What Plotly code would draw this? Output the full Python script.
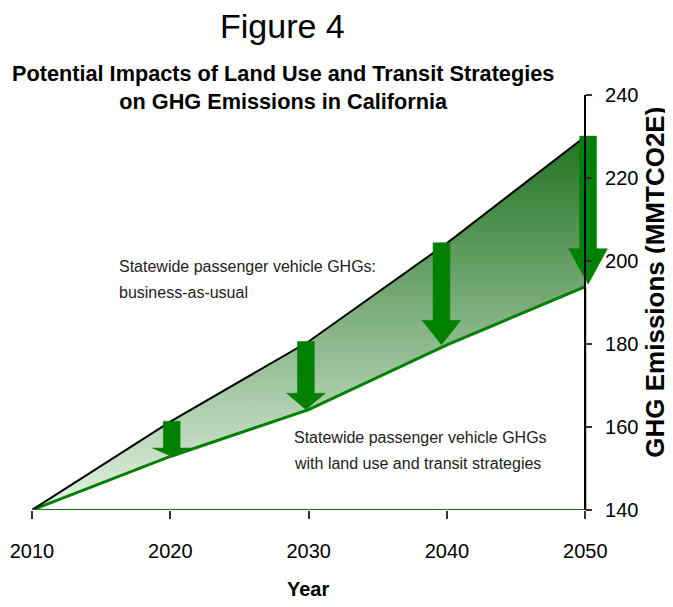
import plotly.graph_objects as go

# ---- data ----
years = [2010, 2020, 2030, 2040, 2050]
bau = [140, 161.3, 180.6, 204.3, 230.0]          # business-as-usual
strategies = [140, 152.9, 164.2, 179.8, 193.8]   # with land use & transit strategies
arrow_x = [2020.1, 2029.8, 2039.6, 2050.2]
arrow_top = [161.4, 180.6, 204.4, 230.1]
arrow_tip = [152.9, 164.2, 179.8, 194.4]
x_ticks = [2010, 2020, 2030, 2040, 2050]
y_ticks = [140, 160, 180, 200, 220, 240]
y_range = [140, 240]
x_range = [2010, 2052]

bau_label = ["Statewide passenger vehicle GHGs:", "business-as-usual"]
bau_label_y = [198.6, 192.3]
strat_label = ["Statewide passenger vehicle GHGs", "with land use and transit strategies"]
strat_label_y = [157.4, 151.2]

GREEN = "#008000"
SANS = "Liberation Sans, Arial, sans-serif"

fig = go.Figure()

# strategies line (base of the shaded band)
fig.add_trace(go.Scatter(x=years, y=strategies, mode="lines",
                         line=dict(color=GREEN, width=3), hoverinfo="skip"))
# business-as-usual line, filled down to strategies with a vertical gradient
fig.add_trace(go.Scatter(x=years, y=bau, mode="lines",
                         line=dict(color="black", width=2),
                         fill="tonexty",
                         fillgradient=dict(type="vertical",
                                           colorscale=[[0, "#e4f2e4"], [1, "#227322"]]),
                         hoverinfo="skip"))

# green baseline along x axis and along right edge below the strategies end
fig.add_trace(go.Scatter(x=[years[0], years[-1]], y=[y_range[0], y_range[0]], mode="lines",
                         line=dict(color="#1f6f1f", width=2), hoverinfo="skip"))
fig.add_trace(go.Scatter(x=[years[-1], years[-1]], y=[strategies[-1], y_range[0]], mode="lines",
                         line=dict(color="#1f6f1f", width=2), hoverinfo="skip"))

# arrows
shaft_hw = 0.61   # years (half width of shaft)
head_hw = 1.4     # years (half width of head)
head_frac = 0.24  # head length as fraction of arrow length
for cx, top, tip in zip(arrow_x, arrow_top, arrow_tip):
    hl = head_frac * (top - tip)
    xs = [cx - shaft_hw, cx + shaft_hw, cx + shaft_hw, cx + head_hw, cx,
          cx - head_hw, cx - shaft_hw, cx - shaft_hw]
    ys = [top, top, tip + hl, tip + hl, tip, tip + hl, tip + hl, top]
    fig.add_trace(go.Scatter(x=xs, y=ys, mode="lines", fill="toself",
                             fillcolor=GREEN, line=dict(color=GREEN, width=0.5),
                             hoverinfo="skip"))

# page body has an 8px margin: figure sized so it ends at the window edge
fig.update_layout(
    width=665, height=599,
    margin=dict(l=23.7, r=59.6, t=87, b=96.5),
    paper_bgcolor="white", plot_bgcolor="white",
    showlegend=False,
    xaxis=dict(range=x_range, tickvals=x_ticks, ticktext=[str(v) for v in x_ticks],
               automargin=False,
               showgrid=False, zeroline=False, showline=False,
               ticks="outside", ticklen=8, tickwidth=1.5, tickcolor="#333",
               ticklabelstandoff=15,
               tickfont=dict(family=SANS, size=20, color="black")),
    yaxis=dict(range=y_range, tickvals=y_ticks, side="right", anchor="free",
               automargin=False,
               position=(years[-1] - x_range[0]) / (x_range[1] - x_range[0]),
               showgrid=False, zeroline=False, showline=True, linecolor="black", linewidth=1.5,
               ticks="outside", ticklen=6, tickwidth=1.5, tickcolor="#333",
               ticklabelstandoff=9,
               tickfont=dict(family=SANS, size=20, color="black")),
)

annotations = [
    dict(text="Figure 4", x=0.432, y=1.1656, xref="paper", yref="paper",
         showarrow=False, xanchor="center", yanchor="middle",
         font=dict(family=SANS, size=34, color="black")),
    dict(text="<b>Potential Impacts of Land Use and Transit Strategies<br>on GHG Emissions in California</b>",
         x=0.432, y=1.019, xref="paper", yref="paper",
         showarrow=False, xanchor="center", yanchor="middle",
         font=dict(family=SANS, size=21.7, color="black")),
    dict(text="<b>Year</b>", x=0.475, y=-0.191, xref="paper", yref="paper",
         showarrow=False, xanchor="center", yanchor="middle",
         font=dict(family=SANS, size=20, color="black")),
    dict(text="<b>GHG Emissions (MMTCO2E)</b>", x=1.0732, y=0.549, xref="paper", yref="paper",
         showarrow=False, xanchor="center", yanchor="middle", textangle=-90,
         font=dict(family=SANS, size=26, color="black")),
]
for txt, yv in zip(bau_label, bau_label_y):
    annotations.append(dict(text=txt, x=2016.16, y=yv, xref="x", yref="y", showarrow=False,
                            xanchor="left", yanchor="middle",
                            font=dict(family=SANS, size=16, color="#222")))
for txt, yv in zip(strat_label, strat_label_y):
    annotations.append(dict(text=txt, x=2028.8, y=yv, xref="x", yref="y", showarrow=False,
                            xanchor="left", yanchor="middle",
                            font=dict(family=SANS, size=16, color="#222")))
fig.update_layout(annotations=annotations)

fig.write_html("out.html")
